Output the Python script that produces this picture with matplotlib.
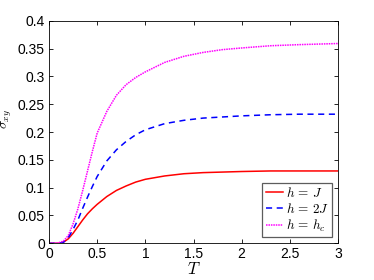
import matplotlib
matplotlib.use('Agg')
import matplotlib.pyplot as plt

plt.rcParams['font.family'] = ['Liberation Sans', 'DejaVu Sans']
plt.rcParams['mathtext.fontset'] = 'cm'

# temperature grid and curves
T = [0, 0.05, 0.1, 0.15, 0.2, 0.25, 0.3, 0.35, 0.4, 0.45, 0.5, 0.6, 0.7, 0.8,
     0.9, 1.0, 1.2, 1.4, 1.6, 1.8, 2.0, 2.3, 2.6, 3.0]
sigma_J = [0, 0, 0, 0.002, 0.008, 0.018, 0.030, 0.042, 0.053, 0.062, 0.070,
           0.084, 0.095, 0.103, 0.110, 0.115, 0.121, 0.125, 0.127, 0.128,
           0.129, 0.130, 0.130, 0.130]
sigma_2J = [0, 0, 0, 0.002, 0.010, 0.025, 0.042, 0.063, 0.083, 0.102, 0.120,
            0.148, 0.168, 0.183, 0.195, 0.204, 0.215, 0.221, 0.225, 0.227,
            0.229, 0.231, 0.232, 0.232]
sigma_hc = [0, 0, 0.001, 0.004, 0.014, 0.035, 0.062, 0.095, 0.130, 0.165,
            0.198, 0.237, 0.266, 0.285, 0.298, 0.308, 0.325, 0.336, 0.343,
            0.348, 0.351, 0.355, 0.357, 0.359]
labels = [r'$h\,=\,J$', r'$h\,=\,2J$', r'$h\,=\,h_c$']

fig = plt.figure(figsize=(3.74, 2.8), dpi=100)
ax = fig.add_axes([49 / 374, 1 - 243.3 / 280, 289 / 374, 222.6 / 280])

ax.plot(T, sigma_J, color='#ff0000', lw=1.1, ls='-', label=labels[0])
ax.plot(T, sigma_2J, color='#0000ff', lw=1.1, ls=(0, (4, 3)), label=labels[1])
ax.plot(T, sigma_hc, color='#ff00ff', lw=1.1, ls=(0, (1, 0.6)), label=labels[2])

ax.set_xlim(0, 3)
ax.set_ylim(0, 0.4)
ax.set_xticks([0, 0.5, 1, 1.5, 2, 2.5, 3])
ax.set_xticklabels(['0', '0.5', '1', '1.5', '2', '2.5', '3'])
ax.set_yticks([0, 0.05, 0.1, 0.15, 0.2, 0.25, 0.3, 0.35, 0.4])
ax.set_yticklabels(['0', '0.05', '0.1', '0.15', '0.2', '0.25', '0.3', '0.35', '0.4'])
ax.tick_params(direction='in', top=True, right=True, labelsize=10, length=3,
               width=0.6, pad=3)
for sp in ax.spines.values():
    sp.set_linewidth(0.6)
ax.set_xlabel(r'$T$', fontsize=12, labelpad=0)
ax.set_ylabel(r'$\sigma_{xy}$', fontsize=10)
ax.yaxis.set_label_coords(-0.122, 0.56)

leg = ax.legend(loc='lower right', fontsize=9.5, handlelength=1.3,
                handletextpad=0.2, borderpad=0.25, labelspacing=0.15,
                fancybox=False, borderaxespad=0.45)
leg.get_frame().set_edgecolor('#333333')
leg.get_frame().set_linewidth(0.9)

fig.savefig('out.png', dpi=100)
